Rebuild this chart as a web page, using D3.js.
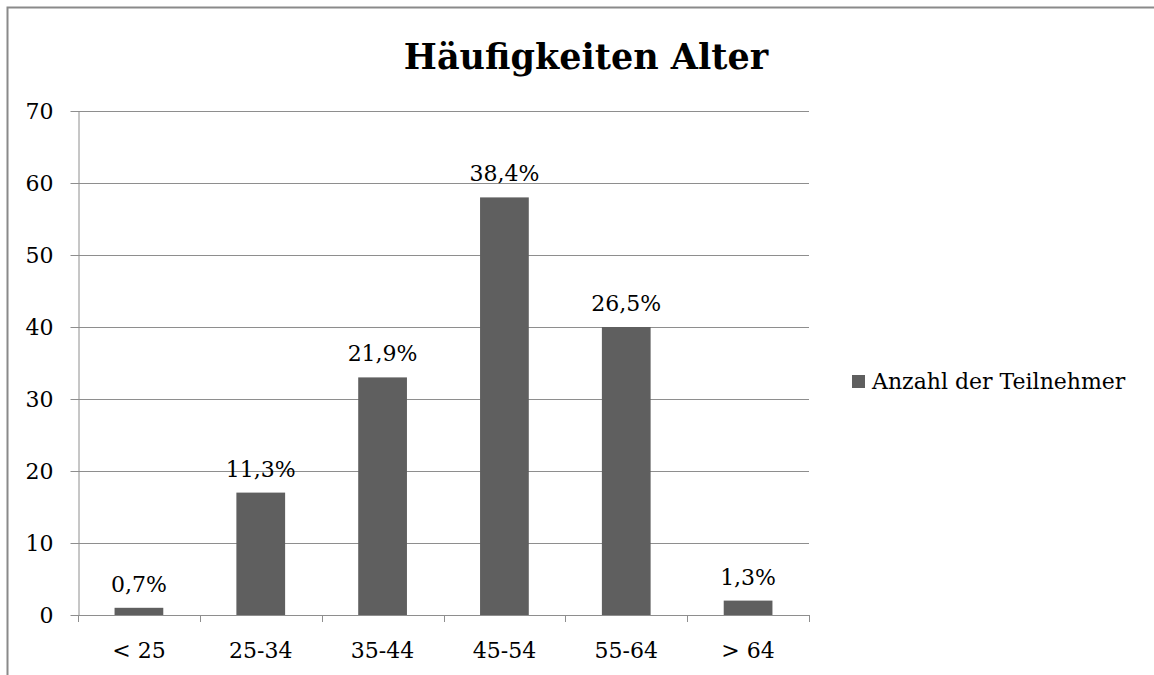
<!DOCTYPE html>
<html>
<head>
<meta charset="utf-8">
<script src="https://cdn.jsdelivr.net/npm/d3@7"></script>
<style>
  html, body { margin: 0; padding: 0; background: #fff; }
  svg { display: block; }
  text { font-family: "DejaVu Serif", "Liberation Serif", serif; fill: #000; }
</style>
</head>
<body>
<svg id="chart" width="1154" height="675"></svg>
<script>
// Age groups and participant counts
const categories = ["< 25", "25-34", "35-44", "45-54", "55-64", "> 64"];
const counts = [1, 17, 33, 58, 40, 2];
const shareLabels = ["0,7%", "11,3%", "21,9%", "38,4%", "26,5%", "1,3%"];
const yTicks = [0, 10, 20, 30, 40, 50, 60, 70];
const seriesName = "Anzahl der Teilnehmer";
const title = "Häufigkeiten Alter";

const svg = d3.select("#chart");
const plot = { left: 78, right: 809, top: 111, bottom: 615 };
const barColor = "#5f5f5f";
const gridColor = "#8e8e8e";
const labelFont = "DejaVu Serif";
const labelSize = 22;

// Outer frame (left and top edges visible)
svg.append("path")
  .attr("d", "M7.5,675 L7.5,7.5 L1154,7.5")
  .attr("fill", "none")
  .attr("stroke", "#8a8a8a")
  .attr("stroke-width", 2);

const x = d3.scaleBand().domain(categories).range([plot.left, plot.right]).paddingInner(0.6).paddingOuter(0.3);
const xOuter = d3.scaleBand().domain(categories).range([plot.left, plot.right]);
const y = d3.scaleLinear().domain([0, 70]).range([plot.bottom, plot.top]);

// Horizontal gridlines
svg.append("g").selectAll("line").data(yTicks.filter(d => d > 0)).join("line")
  .attr("x1", plot.left).attr("x2", plot.right)
  .attr("y1", d => Math.round(y(d)) + 0.5).attr("y2", d => Math.round(y(d)) + 0.5)
  .attr("stroke", gridColor).attr("stroke-width", 1);

// Y axis
const yAxis = svg.append("g").attr("transform", `translate(${plot.left + 0.5},0)`)
  .call(d3.axisLeft(y).tickValues(yTicks).tickSize(8).tickPadding(17).tickSizeOuter(0));
yAxis.attr("font-family", labelFont).attr("font-size", labelSize);
yAxis.select(".domain").attr("stroke", gridColor);
yAxis.selectAll(".tick line").attr("stroke", gridColor);
yAxis.selectAll(".tick text").attr("fill", "#000");

// Bars
svg.append("g").selectAll("rect").data(counts).join("rect")
  .attr("x", (d, i) => x(categories[i]))
  .attr("y", d => y(d))
  .attr("width", x.bandwidth())
  .attr("height", d => y(0) - y(d))
  .attr("fill", barColor);

// X axis baseline with ticks at category boundaries
const xg = svg.append("g");
xg.append("line")
  .attr("x1", plot.left).attr("x2", plot.right)
  .attr("y1", plot.bottom + 0.5).attr("y2", plot.bottom + 0.5)
  .attr("stroke", gridColor);
const bounds = categories.map(c => xOuter(c)).concat([plot.right]);
xg.selectAll("line.tk").data(bounds).join("line").attr("class", "tk")
  .attr("x1", d => Math.round(d) + 0.5).attr("x2", d => Math.round(d) + 0.5)
  .attr("y1", plot.bottom).attr("y2", plot.bottom + 7)
  .attr("stroke", gridColor);
xg.selectAll("text").data(categories).join("text")
  .attr("x", d => xOuter(d) + xOuter.bandwidth() / 2)
  .attr("y", 658)
  .attr("text-anchor", "middle")
  .attr("font-size", labelSize)
  .text(d => d);

// Value labels
svg.append("g").selectAll("text").data(counts).join("text")
  .attr("x", (d, i) => x(categories[i]) + x.bandwidth() / 2)
  .attr("y", d => y(d) - 16)
  .attr("text-anchor", "middle")
  .attr("font-size", labelSize)
  .text((d, i) => shareLabels[i]);

// Title
svg.append("text")
  .attr("x", 586).attr("y", 69)
  .attr("text-anchor", "middle")
  .attr("font-size", 35)
  .attr("font-weight", "bold")
  .text(title);

// Legend
const lg = svg.append("g");
lg.append("rect").attr("x", 852).attr("y", 375).attr("width", 13).attr("height", 13).attr("fill", barColor);
lg.append("text").attr("x", 872).attr("y", 389).attr("font-size", labelSize).text(seriesName);
</script>
</body>
</html>
